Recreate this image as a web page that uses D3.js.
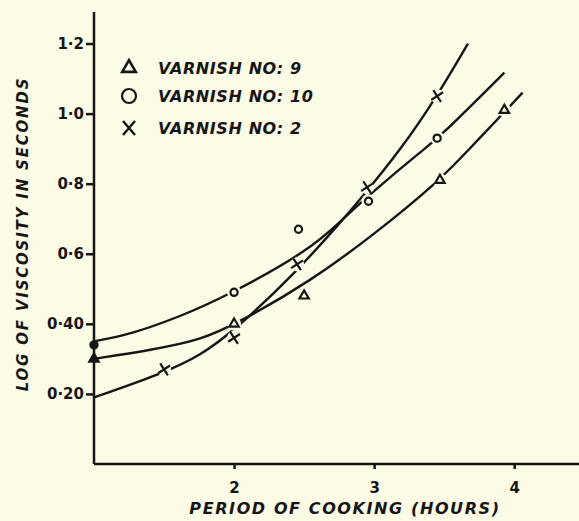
<!DOCTYPE html>
<html>
<head>
<meta charset="utf-8">
<script src="https://cdn.jsdelivr.net/npm/d3@7"></script>
<style>
  html, body { margin: 0; padding: 0; background: #fcfbe6; }
  svg { display: block; }
  text { font-family: "DejaVu Sans", sans-serif; font-weight: bold; fill: #161616; }
</style>
</head>
<body>
<div id="chart"></div>
<script>
// measured points (hours, log viscosity)
const v9Hours = [1, 2, 2.5, 3.47, 3.93];
const v9Values = [0.30, 0.40, 0.48, 0.81, 1.01];
const v10Hours = [1, 2, 2.46, 2.96, 3.45];
const v10Values = [0.34, 0.49, 0.67, 0.75, 0.93];
const v2Hours = [1.5, 2, 2.45, 2.95, 3.45];
const v2Values = [0.27, 0.36, 0.57, 0.79, 1.05];

// hand-drawn fitted curves
const c9Hours = [1, 1.4, 1.76, 2.04, 2.54, 3.0, 3.47, 3.67, 3.92, 4.06];
const c9Values = [0.30, 0.325, 0.353, 0.405, 0.52, 0.655, 0.81, 0.895, 1.0, 1.06];
const c10Hours = [1, 1.26, 1.61, 1.95, 2.54, 2.78, 2.97, 3.35, 3.46, 3.93];
const c10Values = [0.35, 0.37, 0.42, 0.48, 0.61, 0.70, 0.77, 0.897, 0.93, 1.117];
const c2Hours = [1, 1.5, 1.76, 2.0, 2.45, 2.76, 2.9, 3.19, 3.45, 3.67];
const c2Values = [0.19, 0.26, 0.31, 0.38, 0.55, 0.69, 0.755, 0.897, 1.05, 1.2];

const xTicks = [2, 3, 4];
const yTicks = [0.2, 0.4, 0.6, 0.8, 1.0, 1.2];
const yTickLabels = ['0·20', '0·40', '0·6', '0·8', '1·0', '1·2'];
const legendLabels = ['VARNISH NO: 9', 'VARNISH NO: 10', 'VARNISH NO: 2'];

const width = 579, height = 521;
const bg = '#fcfbe6', ink = '#161616';

const svg = d3.select('#chart').append('svg')
  .attr('width', width)
  .attr('height', height);

const x = d3.scaleLinear().domain([1, 4.47]).range([94, 580]);
const y = d3.scaleLinear().domain([0, 1.29]).range([464, 12]);

// axes
const yAxis = d3.axisLeft(y).tickValues(yTicks).tickSize(8)
  .tickFormat((d, i) => yTickLabels[i]);
svg.append('g')
  .attr('transform', `translate(${x(1)},0)`)
  .call(yAxis)
  .call(g => g.select('.domain').attr('d', `M0,${y(1.29)}V${y(0)}`))
  .call(g => g.selectAll('path, line').attr('stroke', ink).attr('stroke-width', 2.5))
  .call(g => g.selectAll('text').attr('font-size', 15).attr('font-family', '"DejaVu Sans", sans-serif')
    .attr('font-weight', 'bold').attr('fill', ink).attr('x', -10));

const xAxis = d3.axisBottom(x).tickValues(xTicks).tickSize(5).tickFormat(d3.format('d'));
svg.append('g')
  .attr('transform', `translate(0,${y(0)})`)
  .call(xAxis)
  .call(g => g.select('.domain').attr('d', `M${x(1)},0H${width}`))
  .call(g => g.selectAll('path, line').attr('stroke', ink).attr('stroke-width', 2.5))
  .call(g => g.selectAll('text').attr('font-size', 15).attr('font-family', '"DejaVu Sans", sans-serif')
    .attr('font-weight', 'bold').attr('fill', ink).attr('y', 18));

// axis titles
svg.append('text')
  .attr('x', 345).attr('y', 514)
  .attr('text-anchor', 'middle')
  .attr('font-size', 16).attr('font-style', 'italic')
  .attr('letter-spacing', 1.6)
  .text('PERIOD OF COOKING (HOURS)');

svg.append('text')
  .attr('transform', 'translate(28,234) rotate(-90)')
  .attr('text-anchor', 'middle')
  .attr('font-size', 15).attr('font-style', 'italic')
  .attr('letter-spacing', 1.8)
  .text('LOG OF VISCOSITY IN SECONDS');

// curves
const line = d3.line().curve(d3.curveBasis)
  .x(d => x(d[0])).y(d => y(d[1]));
const curves = [
  d3.zip(c9Hours, c9Values),
  d3.zip(c10Hours, c10Values),
  d3.zip(c2Hours, c2Values)
];
svg.append('g').selectAll('path')
  .data(curves).join('path')
  .attr('d', line)
  .attr('fill', 'none')
  .attr('stroke', ink)
  .attr('stroke-width', 2.4);

// markers
const triPath = d3.symbol(d3.symbolTriangle, 38)();
const series = [
  { pts: d3.zip(v9Hours, v9Values), kind: 'tri' },
  { pts: d3.zip(v10Hours, v10Values), kind: 'circ' },
  { pts: d3.zip(v2Hours, v2Values), kind: 'cross' }
];

function drawMarker(g, kind, filled) {
  if (kind === 'tri') {
    g.append('path').attr('d', triPath)
      .attr('fill', filled ? ink : bg).attr('stroke', ink).attr('stroke-width', 2.2);
  } else if (kind === 'circ') {
    g.append('circle').attr('r', 3.6)
      .attr('fill', filled ? ink : bg).attr('stroke', ink).attr('stroke-width', 2.2);
  } else {
    g.append('path')
      .attr('d', 'M-5,-5L5,5M-5,5L5,-5')
      .attr('stroke', ink).attr('stroke-width', 2.2);
  }
}

series.forEach(sr => {
  const g = svg.append('g');
  sr.pts.forEach(p => {
    const filled = p[0] === 1;
    const m = g.append('g')
      .attr('transform', `translate(${x(p[0])},${y(p[1])})` + (sr.kind === 'cross' ? ' rotate(12)' : ''));
    if (!filled) m.append('circle').attr('r', 7).attr('fill', bg);
    drawMarker(m, sr.kind, filled);
  });
});

// legend
const legendKinds = ['tri', 'circ', 'cross'];
const legendY = [68, 96, 128];
legendLabels.forEach((lab, i) => {
  const m = svg.append('g').attr('transform', `translate(129,${legendY[i]})`);
  if (legendKinds[i] === 'tri') {
    m.append('path').attr('d', d3.symbol(d3.symbolTriangle, 80)())
      .attr('fill', 'none').attr('stroke', ink).attr('stroke-width', 2.6);
  } else if (legendKinds[i] === 'circ') {
    m.append('circle').attr('r', 7).attr('fill', 'none').attr('stroke', ink).attr('stroke-width', 2.2);
  } else {
    m.append('path').attr('d', 'M-6,-7L6,7M-6,7L6,-7').attr('stroke', ink).attr('stroke-width', 2.4);
  }
  svg.append('text')
    .attr('x', 158).attr('y', legendY[i] + 6)
    .attr('font-size', 16).attr('font-style', 'italic')
    .attr('letter-spacing', 0.6)
    .text(lab);
});
</script>
</body>
</html>
